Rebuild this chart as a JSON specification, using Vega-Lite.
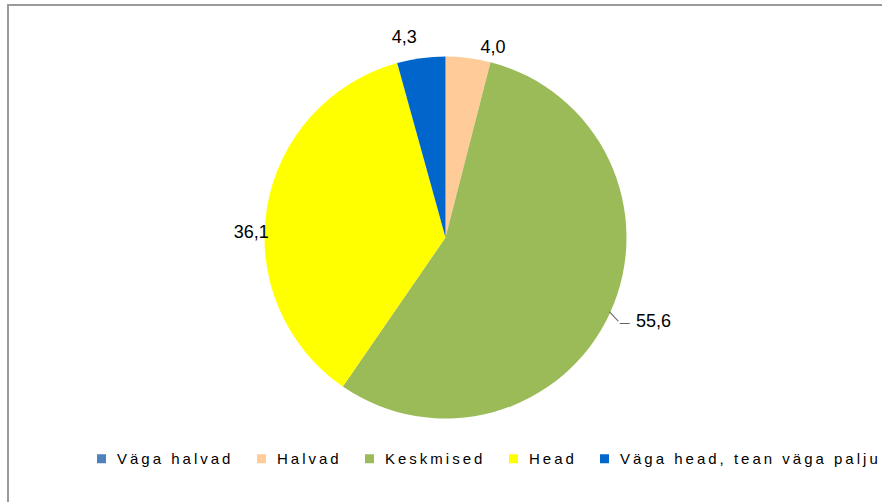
{
  "$schema": "https://vega.github.io/schema/vega-lite/v6.json",
  "width": 880,
  "height": 500,
  "autosize": {"type": "none"},
  "padding": {"left": 8, "top": 5, "right": 0, "bottom": 0},
  "background": "white",
  "config": {
    "view": {"stroke": "#9a9a9a", "strokeWidth": 2},
    "locale": {"number": {"decimal": ",", "thousands": " ", "grouping": [3], "currency": ["", ""]}}
  },
  "data": {
    "values": [
      {"k": 1, "hinnang": "Väga halvad", "v": 0.0},
      {"k": 2, "hinnang": "Halvad", "v": 4.0},
      {"k": 3, "hinnang": "Keskmised", "v": 55.6},
      {"k": 4, "hinnang": "Head", "v": 36.1},
      {"k": 5, "hinnang": "Väga head, tean väga palju", "v": 4.3}
    ]
  },
  "encoding": {
    "theta": {"field": "v", "type": "quantitative", "stack": true},
    "order": {"field": "k", "type": "quantitative"},
    "x": {"value": 437.5},
    "y": {"value": 232.5}
  },
  "layer": [
    {
      "mark": {"type": "arc", "outerRadius": 181, "strokeWidth": 0},
      "encoding": {
        "color": {
          "field": "hinnang",
          "type": "nominal",
          "sort": ["Väga halvad", "Halvad", "Keskmised", "Head", "Väga head, tean väga palju"],
          "scale": {
            "domain": ["Väga halvad", "Halvad", "Keskmised", "Head", "Väga head, tean väga palju"],
            "range": ["#4F81BD", "#FFCC99", "#9BBB59", "#FFFF00", "#0066CC"]
          },
          "legend": {
            "title": null,
            "orient": "none",
            "direction": "horizontal",
            "legendX": 86,
            "legendY": 446,
            "symbolType": "square",
            "symbolSize": 81,
            "symbolStrokeWidth": 0,
            "labelFont": "Liberation Sans",
            "labelFontSize": 15,
            "labelColor": "#000000",
            "labelOffset": 8,
            "labelLimit": 600,
            "columnPadding": 23,
            "labelExpr": "join(split(datum.label, ''), '\u2009')"
          }
        }
      }
    },
    {
      "mark": {"type": "text", "font": "Liberation Sans", "fontSize": 18, "color": "#000000", "baseline": "middle", "align": "center", "dx": 22, "dy": 12},
      "encoding": {
        "radius": {"value": 203},
        "text": {"condition": {"test": "datum.k == 2", "field": "v", "type": "quantitative", "format": ".1f"}, "value": ""}
      }
    },
    {
      "mark": {"type": "text", "font": "Liberation Sans", "fontSize": 18, "color": "#000000", "baseline": "middle", "align": "center", "dx": 6, "dy": -7},
      "encoding": {
        "radius": {"value": 222},
        "text": {"condition": {"test": "datum.k == 3", "field": "v", "type": "quantitative", "format": ".1f"}, "value": ""}
      }
    },
    {
      "mark": {"type": "text", "font": "Liberation Sans", "fontSize": 13, "color": "#404040", "baseline": "middle", "align": "center", "angle": 47, "dx": -1, "dy": 2},
      "encoding": {
        "radius": {"value": 188},
        "text": {"condition": {"test": "datum.k == 3", "value": "—"}, "value": ""}
      }
    },
    {
      "mark": {"type": "text", "font": "Liberation Sans", "fontSize": 10, "color": "#404040", "baseline": "middle", "align": "center", "dx": -1, "dy": 3},
      "encoding": {
        "radius": {"value": 198},
        "text": {"condition": {"test": "datum.k == 3", "value": "—"}, "value": ""}
      }
    },
    {
      "mark": {"type": "text", "font": "Liberation Sans", "fontSize": 18, "color": "#000000", "baseline": "middle", "align": "center", "dx": 6, "dy": 29},
      "encoding": {
        "radius": {"value": 203},
        "text": {"condition": {"test": "datum.k == 4", "field": "v", "type": "quantitative", "format": ".1f"}, "value": ""}
      }
    },
    {
      "mark": {"type": "text", "font": "Liberation Sans", "fontSize": 18, "color": "#000000", "baseline": "middle", "align": "center", "dx": -14, "dy": 2},
      "encoding": {
        "radius": {"value": 203},
        "text": {"condition": {"test": "datum.k == 5", "field": "v", "type": "quantitative", "format": ".1f"}, "value": ""}
      }
    }
  ]
}
